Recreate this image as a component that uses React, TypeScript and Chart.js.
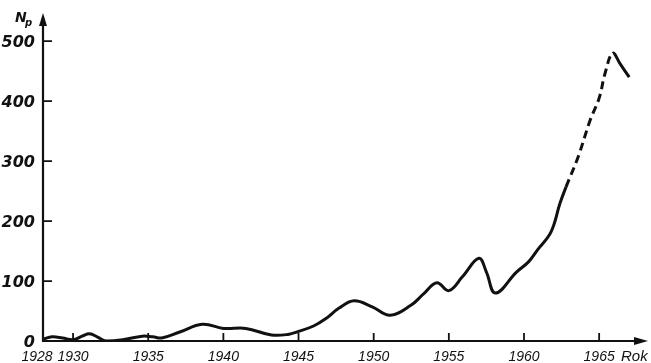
import React, { useEffect, useRef } from "react";
import { Chart, registerables } from "chart.js";

Chart.register(...registerables);

// Yearly values of N_p (approximate, read as a smooth curve)
const years = [
  1928.0, 1928.6, 1929.3, 1930.0, 1930.6, 1931.1, 1931.6, 1932.2, 1933.3, 1934.6,
  1935.3, 1935.9, 1937.1, 1938.6, 1940.0, 1941.5, 1943.2, 1944.3, 1945.0, 1946.0,
  1946.8, 1947.7, 1948.7, 1949.9, 1951.1, 1952.5, 1953.3, 1954.2, 1955.0, 1955.9,
  1957.0, 1957.5, 1958.1, 1959.5, 1960.3, 1960.9, 1961.8, 1962.4, 1962.8, 1963.6,
  1964.4, 1965.0, 1965.4, 1965.9, 1966.4, 1967.0,
];
const values = [
  3, 7, 5, 2, 8, 12, 7, 0, 2, 8,
  7, 5, 15, 28, 21, 21, 10, 11, 16, 25,
  37, 55, 67, 57, 43, 60, 78, 97, 84, 107,
  138, 115, 80, 115, 132, 152, 182, 230, 257, 307,
  368, 405, 447, 480, 462, 440,
];

// Projected stretch of the curve, drawn dashed
const dashedFrom = 1962.7;
const dashedTo = 1966.0;

const xTickYears = [1928, 1930, 1935, 1940, 1945, 1950, 1955, 1960, 1965];
const yTickValues = [0, 100, 200, 300, 400, 500];

const yAxisTitle = "N";
const yAxisTitleSub = "p";
const xAxisTitle = "Rok";

const INK = "#111";

const axesPlugin = {
  id: "arrowAxes",
  afterDraw(chart: any) {
    const { ctx, chartArea, scales } = chart;
    const { left, right, top, bottom } = chartArea;
    ctx.save();
    ctx.strokeStyle = INK;
    ctx.fillStyle = INK;
    ctx.lineWidth = 2.2;
    ctx.lineCap = "butt";

    // axis lines
    ctx.beginPath();
    ctx.moveTo(left, bottom);
    ctx.lineTo(left, top + 8);
    ctx.moveTo(left - 1, bottom);
    ctx.lineTo(right - 8, bottom);
    ctx.stroke();

    // arrow heads
    ctx.beginPath();
    ctx.moveTo(left, top);
    ctx.lineTo(left - 4, top + 13);
    ctx.lineTo(left + 4, top + 13);
    ctx.closePath();
    ctx.fill();
    ctx.beginPath();
    ctx.moveTo(right, bottom);
    ctx.lineTo(right - 14, bottom - 4);
    ctx.lineTo(right - 14, bottom + 4);
    ctx.closePath();
    ctx.fill();

    // inward tick marks
    ctx.lineWidth = 1.8;
    ctx.beginPath();
    yTickValues.forEach((v) => {
      if (v === 0) return;
      const y = scales.y.getPixelForValue(v);
      ctx.moveTo(left, y);
      ctx.lineTo(left + 9, y);
    });
    xTickYears.forEach((yr) => {
      if (yr === 1928) return;
      const x = scales.x.getPixelForValue(yr);
      ctx.moveTo(x, bottom);
      ctx.lineTo(x, bottom - 8);
    });
    ctx.stroke();

    // tick labels
    ctx.textBaseline = "alphabetic";
    ctx.textAlign = "right";
    ctx.font = 'italic bold 16px "DejaVu Sans"';
    yTickValues.forEach((v) => {
      const y = scales.y.getPixelForValue(v);
      ctx.fillText(String(v), left - 8, y + 6);
    });
    ctx.textAlign = "center";
    ctx.font = 'italic 14px "Liberation Sans"';
    xTickYears.forEach((yr, i) => {
      const x = scales.x.getPixelForValue(yr) + (i === 0 ? -6 : 0);
      ctx.fillText(String(yr), x, bottom + 20);
    });

    // axis titles
    ctx.textAlign = "left";
    ctx.font = 'italic bold 14px "DejaVu Sans"';
    ctx.fillText(yAxisTitle, left - 28, top + 9);
    ctx.font = 'italic bold 10px "DejaVu Sans"';
    ctx.fillText(yAxisTitleSub, left - 18, top + 13);
    ctx.font = 'italic 15px "Liberation Sans"';
    ctx.fillText(xAxisTitle, right - 27, bottom + 20);
    ctx.restore();
  },
};

export default function App() {
  const canvasRef = useRef<HTMLCanvasElement | null>(null);

  useEffect(() => {
    document.body.style.margin = "0";
    const canvas = canvasRef.current;
    if (!canvas) return;
    const points = years.map((x, i) => ({ x, y: values[i] }));
    const chart = new Chart(canvas, {
      type: "line",
      data: {
        datasets: [
          {
            data: points,
            borderColor: INK,
            borderWidth: 3,
            pointRadius: 0,
            tension: 0.4,
            fill: false,
            segment: {
              borderDash: (c: any) =>
                c.p0.parsed.x >= dashedFrom && c.p1.parsed.x <= dashedTo ? [8, 5] : undefined,
            },
          },
        ],
      },
      options: {
        animation: false,
        responsive: false,
        events: [],
        layout: { padding: { top: 13, right: 3, left: 43, bottom: 22 } },
        plugins: { legend: { display: false }, tooltip: { enabled: false } },
        scales: {
          x: { type: "linear", display: false, min: 1928, max: 1968.25 },
          y: { type: "linear", display: false, min: 0, max: 547 },
        },
      },
      plugins: [axesPlugin],
    });
    return () => chart.destroy();
  }, []);

  return (
    <div style={{ width: 651, height: 363, background: "#fff" }}>
      <canvas ref={canvasRef} width={651} height={363} />
    </div>
  );
}
